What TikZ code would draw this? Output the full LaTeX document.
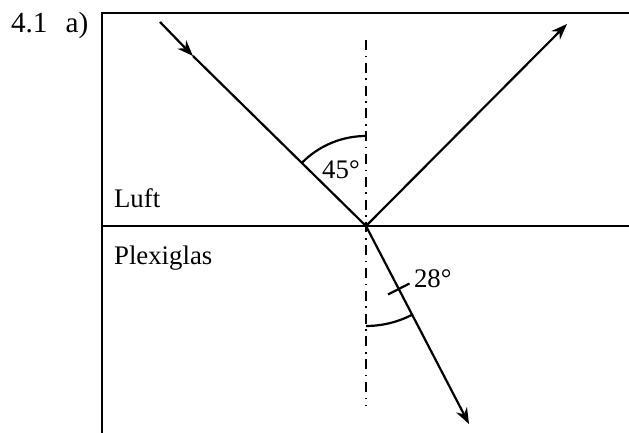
\documentclass[tikz,border=0pt]{standalone}
\usepackage{fontspec}
\setmainfont{Liberation Serif}
\usetikzlibrary{arrows.meta}
\begin{document}
\begin{tikzpicture}[x=0.5pt, y=-0.5pt, line width=1.1pt, >={Stealth[length=8pt,width=6pt]},
  lot/.style={dash pattern=on 5pt off 2.8pt on 0.8pt off 2.8pt, line width=1pt},
  txt/.style={inner sep=0pt, font=\fontsize{13.4}{16}\selectfont}]
  \useasboundingbox (0,0) rectangle (629,433);
  % Rahmen und Grenzflaeche
  \coordinate (lo) at (102,13);
  \coordinate (ro) at (629,13);
  \coordinate (lu) at (102,433);
  \coordinate (gl) at (102,226);
  \coordinate (gr) at (629,226);
  \draw (ro) -- (lo) -- (lu);
  \draw (gl) -- (gr);
  % Lot
  \coordinate (O) at (366,226);
  \coordinate (ntop) at (366,40);
  \coordinate (nbot) at (366,405);
  \draw[lot] (ntop) -- (nbot);
  % Strahlen
  \coordinate (ein) at (160,22);
  \coordinate (mid) at (193,56);
  \coordinate (refl) at (567,24);
  \coordinate (refr) at (469,424);
  \draw[->] (ein) -- (mid);
  \draw (mid) -- (O);
  \draw[->] (O) -- (refl);
  \draw[->] (O) -- (refr);
  % Winkel
  \draw (O) ++(0,-90) arc[start angle=90, end angle=135, radius=45pt];
  \draw (O) ++(0,100) arc[start angle=270, end angle=297.5, radius=50pt];
  \coordinate (t1) at (388,294.5);
  \coordinate (t2) at (409.5,283.5);
  \draw (t1) -- (t2);
  \node[txt] (w45) at (341,170) {45°};
  \node[txt, anchor=west] (w28) at (413,279) {28°};
  % Beschriftung
  \node[txt, anchor=base west, font=\fontsize{14.6}{17}\selectfont] (nr) at (10,33) {4.1\hspace{9pt}a)};
  \node[txt, anchor=base west] (luft) at (113,208) {Luft};
  \node[txt, anchor=base west] (plexi) at (113,265) {Plexiglas};
\end{tikzpicture}
\end{document}
